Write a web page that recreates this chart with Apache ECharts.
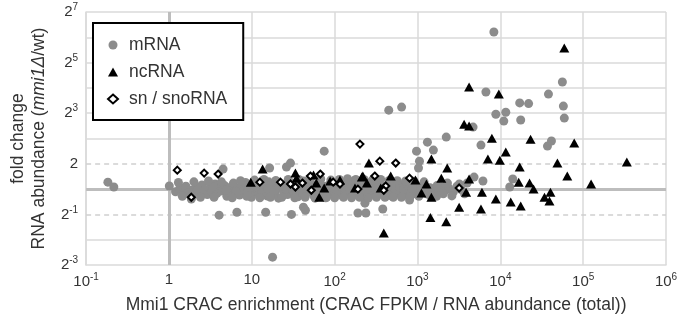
<!DOCTYPE html>
<html>
<head>
<meta charset="utf-8">
<script src="https://cdn.jsdelivr.net/npm/echarts@6/dist/echarts.min.js"></script>
<style>
  html, body { margin: 0; padding: 0; background: #fff; }
  #chart { width: 689px; height: 320px; }
</style>
</head>
<body>
<div id="chart"></div>
<script>
// [enrichment, fold change]
const mRNA = [
  [0.183, 1.21], [0.216, 1.06], [1.01, 1.09], [1.86, 0.76], [4.03, 0.49], [6.61, 0.53],
  [14.7, 0.53], [30.1, 0.50], [42, 0.61], [44.4, 0.56], [191, 0.52], [238, 0.52],
  [381, 0.58], [232, 0.68], [4.5, 1.73], [16.4, 1.78], [26.2, 1.83], [29.3, 2.04],
  [74.8, 2.83], [450, 8.7], [643, 9.46], [973, 2.83], [1057, 2.15], [1318, 3.62],
  [1556, 2.91], [2224, 4.16], [1028, 1.78], [8356, 74], [6699, 14.3], [17140, 10.6],
  [21950, 10.4], [8830, 7.78], [11640, 8.22], [11010, 6.45], [17620, 6.63], [38110, 13.5],
  [56100, 18.8], [57680, 9.72], [59200, 7.0], [4688, 5.47], [5838, 3.34], [37080, 3.25],
  [41400, 3.73], [14130, 1.32], [13000, 1.06], [6170, 1.25], [4820, 1.39], [3970, 1.18],
  [17.8, 0.155], [802, 0.74],
  // main band
  [1.2, 0.93], [1.35, 1.02], [1.5, 0.88], [1.6, 1.08], [1.8, 0.97], [1.9, 0.84], [2.1, 1.05],
  [2.3, 0.92], [2.5, 1.12], [2.7, 0.98], [2.9, 0.86], [3.1, 1.03], [3.3, 0.93], [3.6, 1.15],
  [3.8, 0.89], [4.1, 1.01], [4.4, 0.95], [4.7, 1.1], [5.0, 0.82], [5.3, 1.04], [5.6, 0.96],
  [6.0, 1.18], [6.3, 0.9], [6.7, 1.02], [7.1, 0.85], [7.5, 1.08], [7.9, 0.97], [8.4, 1.2],
  [8.9, 0.91], [9.4, 1.05], [9.9, 0.8],
  [10.5, 1.12], [11, 0.94], [11.6, 1.0], [12.2, 0.87], [12.9, 1.15], [13.6, 0.96], [14.4, 1.06],
  [15.2, 0.83], [16, 1.22], [17, 0.99], [18, 1.09], [19, 0.9], [20, 1.03], [21, 0.78],
  [22.5, 1.14], [24, 0.95], [25.5, 1.07], [27, 0.86], [28.5, 1.0], [30, 1.18], [32, 0.92],
  [34, 1.04], [36, 0.81], [38, 1.1], [40, 0.97], [42.5, 1.25], [45, 0.88], [47.5, 1.02],
  [50, 0.93], [53, 1.13], [56, 0.84], [59, 1.06], [62, 0.96], [66, 1.2], [70, 0.89],
  [74, 1.03], [78, 0.79], [83, 1.1], [88, 0.95], [93, 1.16], [98, 0.87],
  [104, 1.04], [110, 0.92], [117, 1.12], [124, 0.83], [131, 1.0], [139, 1.19], [147, 0.9],
  [156, 1.06], [165, 0.96], [175, 1.27], [185, 0.86], [196, 1.02], [208, 1.14], [220, 0.93],
  [233, 1.07], [247, 0.8], [262, 1.0], [278, 1.17], [294, 0.89], [312, 1.05], [330, 0.95],
  [350, 1.21], [371, 0.87], [393, 1.03], [416, 0.92], [441, 1.11], [468, 0.84], [496, 0.99],
  [525, 1.08], [556, 0.9], [590, 1.02], [625, 0.95], [662, 1.13], [702, 0.86], [744, 1.0],
  [788, 0.93], [835, 1.07], [885, 0.97], [938, 0.88],
  [1000, 1.03], [1070, 0.92], [1150, 1.1], [1230, 0.97], [1320, 0.87], [1420, 1.04],
  [1530, 0.94], [1650, 1.0], [1800, 0.9], [1950, 1.06], [2150, 0.96], [2400, 1.02],
  [2700, 0.92], [3000, 1.08], [3400, 0.98],
  [1.7, 0.9], [2.2, 1.0], [3.4, 1.07], [4.9, 0.97], [6.5, 0.93], [9.1, 1.0], [11.3, 1.07],
  [13.2, 0.9], [15.7, 1.0], [18.5, 0.95], [21.5, 1.08], [26, 1.0], [31, 0.98], [35, 1.12],
  [41, 0.9], [48, 1.09], [55, 1.0], [64, 0.92], [72, 1.09], [85, 1.0], [95, 1.06],
  [107, 0.97], [121, 1.06], [135, 0.95], [151, 1.0], [170, 0.92], [190, 1.1], [214, 1.0],
  [240, 0.94], [270, 1.09], [303, 1.0], [340, 1.06], [382, 0.97], [430, 1.02], [482, 1.16],
  [540, 0.96], [608, 1.06], [680, 1.0], [765, 1.1], [860, 1.02], [1100, 0.98], [1380, 1.0],
  [1720, 1.1], [2050, 0.88],
  [1.3, 1.2], [1.45, 0.82], [2.0, 1.22], [2.4, 0.8], [3.0, 1.25], [3.5, 0.8], [4.3, 1.22],
  [5.8, 0.79], [7.3, 1.26], [8.7, 0.82], [10.8, 1.28], [12.5, 0.79], [14, 1.3], [16.8, 0.8],
  [19.5, 1.27], [23, 0.8], [27.5, 1.3], [33, 0.79], [37, 1.3], [44, 0.8], [51, 1.3],
  [58, 0.78], [68, 1.32], [80, 0.8], [90, 1.28], [100, 0.79], [114, 1.3], [128, 0.8],
  [143, 1.33], [160, 0.79], [180, 1.3], [200, 0.8], [226, 1.3], [255, 0.78], [285, 1.28],
  [320, 0.8], [360, 1.3], [405, 0.8], [455, 1.27], [510, 0.8], [570, 1.26], [640, 0.8],
  [720, 1.25], [810, 0.81], [910, 1.24], [1040, 0.82], [1200, 1.22], [1450, 0.82],
  [1700, 0.82], [2300, 1.18], [2600, 0.83], [3200, 1.15], [3700, 0.88]
];

const ncRNA = [
  [9.72, 1.21], [13.5, 1.73], [33.6, 1.55], [34.6, 1.35], [55.6, 1.47], [60, 1.18], [65.2, 0.80],
  [74.8, 1.03], [88.3, 1.25], [116, 1.28], [176, 1.03], [213, 1.39], [219, 1.43], [245, 1.18],
  [259, 2.04], [360, 1.03], [392, 0.30], [475, 1.43], [946, 1.28], [1117, 0.90], [1282, 1.15],
  [1472, 2.28], [1472, 0.80], [1432, 0.46], [1938, 1.35], [2286, 1.78], [2224, 0.41],
  [3184, 0.61], [3864, 0.92], [4198, 1.32], [4198, 16.4], [3656, 5.93], [4198, 5.62],
  [6000, 0.92], [5838, 0.58], [7907, 4.04], [7080, 2.28], [9590, 13.5], [11640, 2.76],
  [9860, 2.21], [8830, 0.76], [13360, 0.70], [17140, 1.83], [17620, 0.63], [16670, 1.21],
  [22540, 1.18], [25180, 1.0], [23170, 3.93], [34120, 0.80], [40270, 0.92], [39170, 0.72],
  [48870, 2.04], [64300, 1.43], [59200, 47.7], [78000, 3.53], [124700, 1.15], [336500, 2.10]
];

const snRNA = [
  [1.26, 1.68], [2.66, 1.55], [3.92, 1.51], [1.86, 0.80], [12.5, 1.21], [22.2, 1.21],
  [29.3, 1.15], [33.6, 1.06], [40.8, 1.18], [50.9, 1.43], [67, 1.51], [52.3, 0.97],
  [96, 1.21], [116, 1.15], [202, 3.43], [191, 1.0], [305, 1.43], [351, 2.15], [546, 2.04],
  [414, 1.09], [392, 0.97], [802, 1.35], [3184, 1.03]
];

const seriesNames = ['mRNA', 'ncRNA', 'sn / snoRNA'];
const yGridValues = [0.25, 4, 8, 16, 32, 64, 128];
const yDashedValues = [0.5, 2];
const unityValue = 1;

const FONT = 'Liberation Sans, Arial, sans-serif';
const TEXT = '#333';

const supRich = {
  b: { fontSize: 15, fontFamily: FONT, color: TEXT },
  s: { fontSize: 10, fontFamily: FONT, color: TEXT, padding: [0, 0, 9, 0] }
};

const chart = echarts.init(document.getElementById('chart'), null, { renderer: 'canvas' });

const guideLines = [];
yGridValues.forEach(v => guideLines.push({ yAxis: v, lineStyle: { color: '#dadada', width: 1.5, type: 'solid' } }));
yDashedValues.forEach(v => guideLines.push({ yAxis: v, lineStyle: { color: '#cfcfcf', width: 1.5, type: [5, 4] } }));
guideLines.push({ yAxis: unityValue, lineStyle: { color: '#bdbdbd', width: 3, type: 'solid' } });
guideLines.push({ xAxis: unityValue, lineStyle: { color: '#bdbdbd', width: 3, type: 'solid' } });

const option = {
  animation: false,
  backgroundColor: '#fff',
  grid: { left: 81, right: 23, top: 12, bottom: 55, containLabel: false },
  legend: {
    data: seriesNames,
    zlevel: 2,
    z: 10,
    orient: 'vertical',
    left: 93,
    top: 23,
    itemWidth: 10,
    itemHeight: 9,
    itemGap: 9,
    padding: [13, 16, 12, 14],
    borderColor: '#000',
    borderWidth: 2,
    backgroundColor: '#fff',
    textStyle: { fontSize: 17.5, color: TEXT, fontFamily: FONT, padding: [0, 0, 0, 6] }
  },
  xAxis: {
    type: 'log',
    logBase: 10,
    min: 0.1,
    max: 1e6,
    interval: 1,
    name: 'Mmi1 CRAC enrichment (CRAC FPKM / RNA abundance (total))',
    nameLocation: 'middle',
    nameGap: 31,
    nameTextStyle: { fontSize: 17.5, color: TEXT, fontFamily: FONT },
    axisLine: { show: true, lineStyle: { color: '#dadada', width: 1.5 } },
    axisTick: { show: false },
    splitLine: { show: true, lineStyle: { color: '#dadada', width: 1.5 } },
    axisLabel: {
      margin: 7,
      formatter: v => {
        const e = Math.round(Math.log10(v));
        if (e === 0) return '{b|1}';
        if (e === 1) return '{b|10}';
        return '{b|10}{s|' + e + '}';
      },
      rich: supRich
    }
  },
  yAxis: {
    type: 'log',
    logBase: 2,
    min: 0.125,
    max: 128,
    interval: 1,
    name: 'fold change\nRNA abundance ({i|mmi1\u0394}/wt)',
    nameLocation: 'middle',
    nameGap: 25,
    nameTextStyle: {
      fontSize: 17.5, color: TEXT, fontFamily: FONT, lineHeight: 21,
      rich: { i: { fontSize: 17.5, color: TEXT, fontFamily: FONT, fontStyle: 'italic', lineHeight: 21 } }
    },
    axisLine: { show: true, lineStyle: { color: '#dadada', width: 1.5 } },
    axisTick: { show: false },
    splitLine: { show: false },
    axisLabel: {
      margin: 8,
      formatter: v => {
        const e = Math.round(Math.log2(v));
        if (e % 2 === 0) return '';
        if (e === 1) return '{b|2}';
        return '{b|2}{s|' + e + '}';
      },
      rich: supRich
    }
  },
  series: [
    {
      name: 'guides',
      type: 'scatter',
      data: [],
      silent: true,
      z: 1,
      markLine: { silent: true, symbol: 'none', label: { show: false }, data: guideLines }
    },
    {
      name: seriesNames[0],
      type: 'scatter',
      zlevel: 1,
      z: 3,
      symbol: 'circle',
      symbolSize: 9,
      itemStyle: { color: '#8c8c8c', opacity: 1 },
      data: mRNA
    },
    {
      name: seriesNames[1],
      type: 'scatter',
      zlevel: 1,
      z: 4,
      symbol: 'triangle',
      symbolSize: [10, 9],
      itemStyle: { color: '#000', opacity: 1 },
      data: ncRNA
    },
    {
      name: seriesNames[2],
      type: 'scatter',
      zlevel: 1,
      z: 5,
      symbol: 'diamond',
      symbolSize: 7,
      itemStyle: { color: '#fff', borderColor: '#000', borderWidth: 2, opacity: 1 },
      data: snRNA
    }
  ]
};

chart.setOption(option);
</script>
</body>
</html>
